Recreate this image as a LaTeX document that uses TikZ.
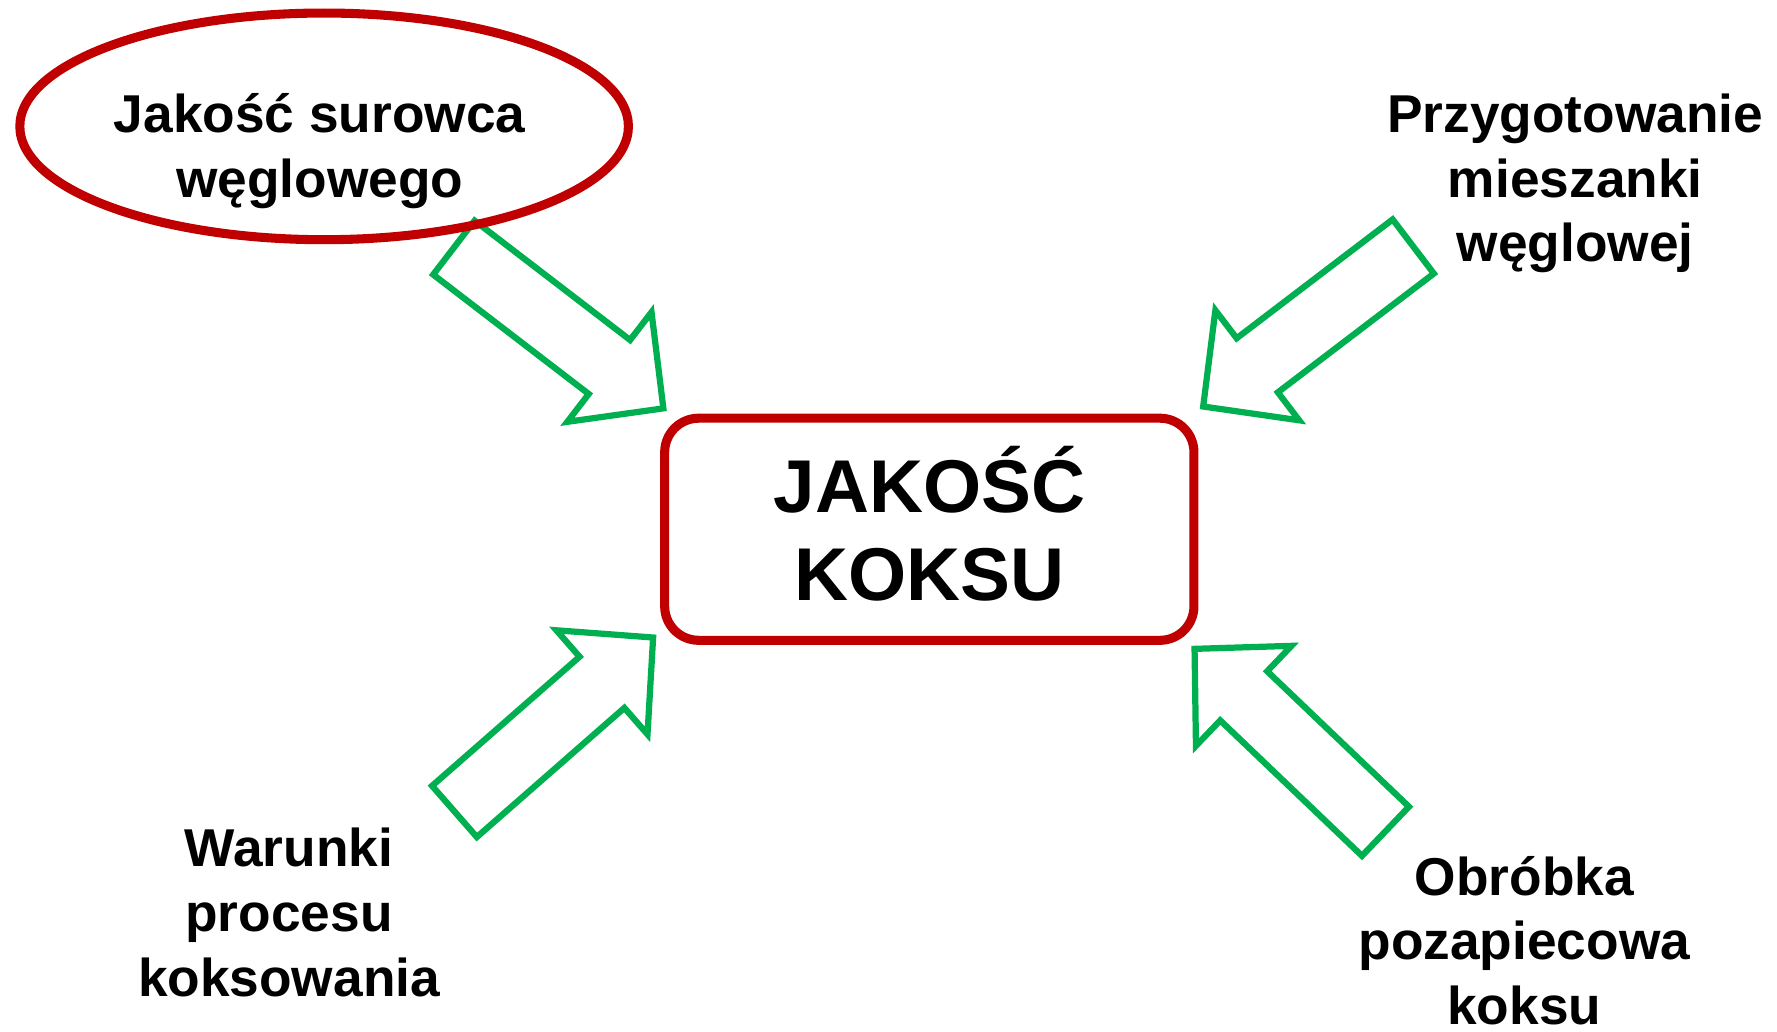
\documentclass[tikz,border=0pt]{standalone}
\usepackage{fontspec}
\setmainfont{Liberation Sans}
\usetikzlibrary{shapes.geometric}

\definecolor{frameRed}{HTML}{C00000}
\definecolor{arrowGreen}{HTML}{00B050}

\tikzset{
  redframe/.style={draw=frameRed, line width=8pt},
  arrowline/.style={draw=arrowGreen, line width=5.5pt, line join=miter, fill=none},
  % base anchor of a multi-line node sits on its last line
  smalllabel/.style={font=\bfseries\fontsize{47pt}{57pt}\selectfont, align=center, inner sep=0pt, anchor=base},
  biglabel/.style={font=\bfseries\fontsize{66pt}{78pt}\selectfont, align=center},
  % hollow block arrow: tail at the origin, pointing along +x
  pics/blockarrow/.style={code={
    \path[arrowline] (0pt,30pt) -- (173pt,30pt) -- (173pt,61pt) -- (233pt,0pt)
      -- (173pt,-61pt) -- (173pt,-30pt) -- (0pt,-30pt) -- cycle;
  }}
}

\begin{document}
\begin{tikzpicture}[x=1pt, y=-1pt]
  \useasboundingbox (0,0) rectangle (1568,910);

  % four hollow arrows pointing to the centre
  \pic[rotate=-37.5]  (arrA) at (400.5,218.5) {blockarrow};
  \pic[rotate=-142.7] (arrB) at (1247,217.5)  {blockarrow};
  \pic[rotate=41.2]   (arrC) at (401,716)     {blockarrow};
  \pic[rotate=136.3]  (arrD) at (1222.5,733.5) {blockarrow};

  % central box
  \node[redframe, rounded corners=30pt, minimum width=467pt, minimum height=196pt,
        inner sep=0pt, biglabel] (core) at (820,467) {JAKOŚĆ\\KOKSU\rule[-10pt]{0pt}{0pt}};

  % highlighted factor
  \node[redframe, ellipse, minimum width=537pt, minimum height=200pt, inner sep=0pt]
        (hilite) at (286,111.5) {};

  % factor labels
  \node[smalllabel] (raw)   at (282,174)  {Jakość surowca\\węglowego};
  \node[smalllabel] (blend) at (1390,231) {Przygotowanie\\mieszanki\\węglowej};
  \node[smalllabel] (proc)  at (255,879)  {Warunki\\procesu\\koksowania};
  \node[smalllabel] (post)  at (1345,904) {Obróbka\\pozapiecowa\\koksu};
\end{tikzpicture}
\end{document}
